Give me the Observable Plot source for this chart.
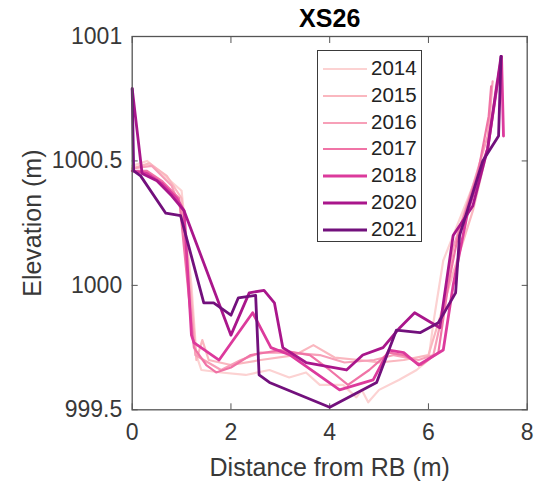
<!DOCTYPE html>
<html><head><meta charset="utf-8">
<script src="https://cdn.jsdelivr.net/npm/d3@7"></script>
<script src="https://cdn.jsdelivr.net/npm/@observablehq/plot@0.6"></script>
<style>
body{margin:0;background:#fff;}
#wrap{position:relative;width:539px;height:483px;font-family:"Liberation Sans",Arial,Helvetica,sans-serif;}
#legend{position:absolute;left:317px;top:50px;width:105px;height:192px;box-sizing:border-box;border:1.3px solid #3a3a3a;background:#fff;}
.row{position:absolute;left:0;height:26px;width:100%;}
.row .sw{position:absolute;left:5px;top:12px;width:44px;}
.row .lb{position:absolute;left:53px;top:0;line-height:26px;font-size:20.5px;color:#222;}
</style></head><body><div id="wrap"></div>
<script>
const title = "XS26";
const xLabel = "Distance from RB (m)";
const yLabel = "Elevation (m)";
const xTicks = [0, 2, 4, 6, 8];
const yTicks = [999.5, 1000, 1000.5, 1001];
const years = ["2014", "2015", "2016", "2017", "2018", "2020", "2021"];
const colors = ["#fcd2d2", "#fab7bf", "#f7a0b8", "#f074a6", "#dc3a9c", "#a9168b", "#72107c"];

const s2014 = [[0,1000.48],[0.3,1000.5],[0.6,1000.45],[1.0,1000.38],[1.2,1000.0],[1.3,999.72],[1.4,999.66],[1.8,999.65],[2.3,999.64],[2.78,999.66],[3.18,999.63],[3.52,999.65],[3.8,999.6],[4.27,999.6],[4.54,999.55],[4.65,999.58],[4.78,999.53],[5.0,999.58],[5.4,999.62],[5.76,999.66],[6.0,999.7],[6.1,999.85],[6.3,1000.1],[6.7,1000.3],[7.0,1000.45],[7.2,1000.55],[7.38,1000.82]];
const s2015 = [[0,1000.47],[0.35,1000.49],[0.7,1000.44],[1.0,1000.35],[1.2,999.95],[1.3,999.7],[1.42,999.78],[1.55,999.7],[2.0,999.68],[2.6,999.7],[3.3,999.72],[3.67,999.76],[4.1,999.71],[4.6,999.7],[5.0,999.69],[5.5,999.7],[6.0,999.72],[6.2,999.85],[6.5,1000.05],[6.9,1000.3],[7.2,1000.55],[7.28,1000.8]];
const s2016 = [[0,1000.47],[0.4,1000.48],[0.8,1000.4],[1.0,1000.3],[1.2,999.9],[1.28,999.72],[1.45,999.7],[1.8,999.66],[2.2,999.7],[2.6,999.73],[3.2,999.73],[3.8,999.72],[4.3,999.69],[4.9,999.7],[5.3,999.72],[5.8,999.7],[6.1,999.72],[6.3,999.9],[6.5,1000.15],[6.9,1000.4],[7.2,1000.6],[7.3,1000.82]];
const s2017 = [[0,1000.46],[0.3,1000.46],[0.6,1000.42],[0.95,1000.35],[1.15,999.95],[1.25,999.75],[1.5,999.68],[1.7,999.65],[2.0,999.67],[2.4,999.72],[3.0,999.74],[3.6,999.72],[4.0,999.66],[4.37,999.6],[4.8,999.66],[5.2,999.73],[5.5,999.72],[5.85,999.68],[6.2,999.73],[6.4,1000.0],[6.6,1000.2],[7.0,1000.45],[7.22,1000.68],[7.27,1000.8]];
const s2018 = [[0,1000.46],[0.3,1000.45],[0.6,1000.41],[0.9,1000.35],[1.05,1000.3],[1.2,999.8],[1.25,999.77],[1.76,999.7],[2.44,999.89],[2.81,999.75],[3.2,999.72],[4.2,999.58],[4.88,999.62],[5.2,999.74],[5.5,999.73],[5.8,999.68],[6.3,999.74],[6.5,1000.0],[6.8,1000.3],[7.2,1000.55],[7.48,1000.92],[7.52,1000.6]];
const s2020 = [[0,1000.79],[0.2,1000.45],[0.5,1000.42],[0.8,1000.36],[1.05,1000.3],[2.0,999.8],[2.37,999.97],[2.67,999.98],[2.88,999.93],[3.05,999.75],[3.52,999.69],[4.34,999.66],[4.67,999.72],[5.08,999.75],[5.42,999.83],[5.72,999.89],[6.23,999.83],[6.5,1000.2],[6.9,1000.32],[7.2,1000.55],[7.47,1000.92]];
const s2021 = [[0,1000.79],[0.03,1000.46],[0.17,1000.44],[0.68,1000.29],[0.98,1000.28],[1.45,999.93],[1.65,999.93],[2.0,999.88],[2.15,999.95],[2.5,999.96],[2.57,999.64],[2.78,999.61],[4.0,999.51],[4.95,999.61],[5.35,999.82],[5.83,999.81],[6.2,999.85],[6.55,999.97],[6.63,1000.2],[7.1,1000.5],[7.42,1000.6],[7.47,1000.92]];
const series = [s2014, s2015, s2016, s2017, s2018, s2020, s2021];

const rows = years.flatMap((yr, i) => series[i].map(([x, y]) => ({year: yr, x, y})));
const font = "'Liberation Sans', Arial, Helvetica, sans-serif";

const chart = Plot.plot({
  width: 539, height: 483,
  marginLeft: 131.7, marginRight: 12.3, marginTop: 36, marginBottom: 73.7,
  style: {fontFamily: font, fontSize: "23px", color: "#333", background: "#fff", overflow: "visible"},
  x: {domain: [0, 8]},
  y: {domain: [999.5, 1001]},
  marks: [
    Plot.axisX(xTicks, {anchor: "bottom", tickSize: 0, tickPadding: 14, tickFormat: d => String(d), label: null, fill: "#383838", fontSize: 23}),
    Plot.axisX(xTicks, {anchor: "bottom", tickSize: -6, tickFormat: () => "", label: null, stroke: "#555"}),
    Plot.axisX(xTicks, {anchor: "top", tickSize: -6, tickFormat: () => "", label: null, stroke: "#555"}),
    Plot.axisY(yTicks, {anchor: "left", tickSize: 0, tickPadding: 10, tickFormat: d => String(d), label: null, fill: "#383838", fontSize: 23}),
    Plot.axisY(yTicks, {anchor: "left", tickSize: -6, tickFormat: () => "", label: null, stroke: "#555"}),
    Plot.axisY(yTicks, {anchor: "right", tickSize: -6, tickFormat: () => "", label: null, stroke: "#555"}),
    ...years.map((yr, i) => Plot.line(rows.filter(r => r.year === yr), {
      x: "x", y: "y", stroke: colors[i], strokeWidth: i >= 4 ? 2.8 : 2.2, strokeLinejoin: "round", strokeLinecap: "round"
    })),
    Plot.frame({stroke: "#555", strokeWidth: 1.3}),
    Plot.text([title], {text: d => d, frameAnchor: "top", dy: -18, fontWeight: "bold", fontSize: 25, fill: "#000", textAnchor: "middle", lineAnchor: "middle"}),
    Plot.text([xLabel], {text: d => d, frameAnchor: "bottom", dy: 58, fontSize: 25, fill: "#383838", textAnchor: "middle", lineAnchor: "middle"}),
    Plot.text([yLabel], {text: d => d, frameAnchor: "left", dx: -99, rotate: -90, fontSize: 25, fill: "#383838", textAnchor: "middle", lineAnchor: "middle"})
  ]
});

const wrap = document.getElementById("wrap");
wrap.appendChild(chart);

const legend = d3.select(wrap).append("div").attr("id", "legend");
const row = legend.selectAll(".row").data(years).join("div")
  .attr("class", "row")
  .style("top", (d, i) => (3.7 + i * 26.9) + "px");
row.append("svg").attr("class", "sw").attr("width", 44).attr("height", 4)
  .append("line").attr("x1", 0).attr("x2", 44).attr("y1", 2).attr("y2", 2)
  .attr("stroke", (d, i) => colors[i]).attr("stroke-width", (d, i) => i >= 4 ? 2.8 : 2.2);
row.append("span").attr("class", "lb").text(d => d);
</script>
</body></html>
